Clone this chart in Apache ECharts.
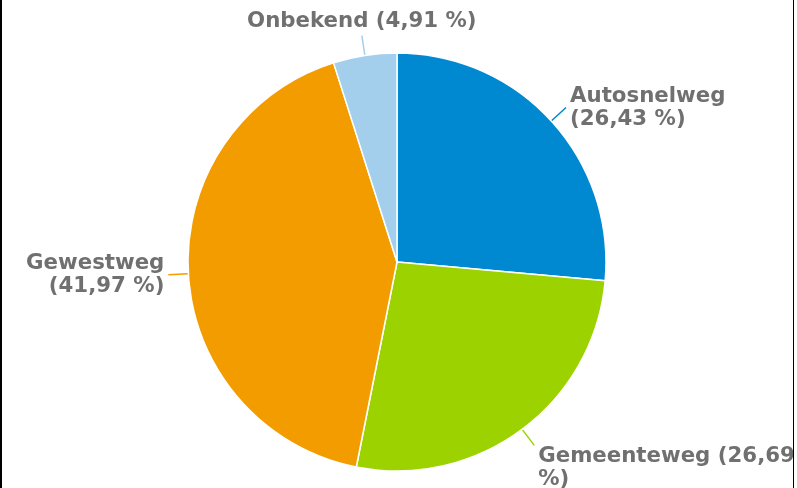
<!DOCTYPE html>
<html>
<head>
<meta charset="utf-8">
<script src="https://cdn.jsdelivr.net/npm/echarts@6/dist/echarts.min.js"></script>
<style>
  html, body { margin: 0; padding: 0; background: #fff; }
  #frame { position: absolute; left: 0; top: 0; width: 791px; height: 488px;
           border-left: 2px solid #000; border-right: 1px solid #000; overflow: hidden; }
  #chart { width: 791px; height: 488px; }
</style>
</head>
<body>
<div id="frame"><div id="chart"></div></div>
<script>
// wegtype aandeel (%)
var names = ['Autosnelweg', 'Gemeenteweg', 'Gewestweg', 'Onbekend'];
var values = [26.43, 26.69, 41.97, 4.91];
var labels = ['Autosnelweg\n(26,43 %)', 'Gemeenteweg (26,69\n%)', 'Gewestweg\n(41,97 %)', 'Onbekend (4,91 %)'];
var colors = ['#0089d1', '#9bd200', '#f39c00', '#a3cfed'];

var myChart = echarts.init(document.getElementById('chart'));

var data = names.map(function (n, i) {
    return { name: n, value: values[i], label: { formatter: labels[i] } };
});

myChart.setOption({
    animation: false,
    color: colors,
    series: [
        {
            type: 'pie',
            center: [395, 262],
            radius: 209,
            startAngle: 90,
            clockwise: true,
            avoidLabelOverlap: false,
            itemStyle: { borderColor: '#fff', borderWidth: 1.5 },
            label: {
                show: true,
                position: 'outside',
                fontFamily: 'DejaVu Sans',
                fontWeight: 'bold',
                fontSize: 21.3,
                lineHeight: 23,
                color: '#707070',
                distanceToLabelLine: 4
            },
            labelLine: { show: true, length: 20, length2: 0, lineStyle: { width: 1.5 } },
            labelLayout: function (params) {
                var pts = params.labelLinePoints;
                if (!pts) return {};
                var end = pts[pts.length - 1];
                if (params.dataIndex === 3) {
                    return { x: end[0], y: end[1] - 3, align: 'center', verticalAlign: 'bottom', labelLinePoints: pts };
                }
                if (params.dataIndex === 1) {
                    return { x: end[0] + 4, y: end[1], align: 'left', verticalAlign: 'top', labelLinePoints: pts };
                }
                return {};
            },
            data: data
        }
    ]
});
</script>
</body>
</html>
